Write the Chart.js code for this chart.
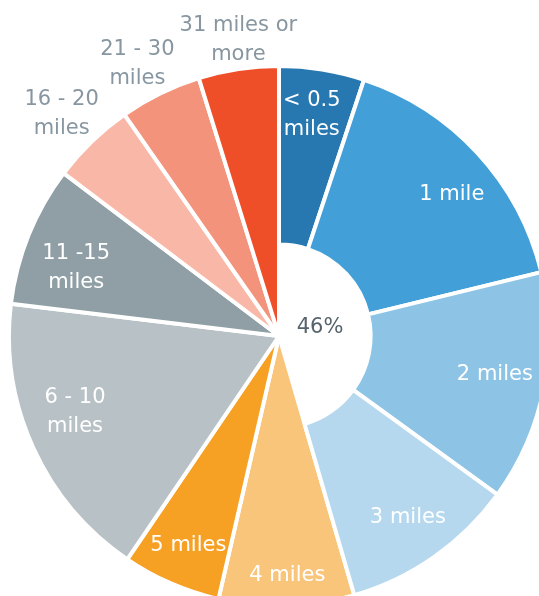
<!DOCTYPE html>
<html>
<head>
<meta charset="utf-8">
<script src="https://cdn.jsdelivr.net/npm/chart.js@4.4.1/dist/chart.umd.min.js"></script>
<style>
    html, body { margin: 0; padding: 0; background: #fff; overflow: hidden; width: 539px; height: 596px; }
    .wrap { position: relative; width: 560px; height: 620px; }
    .wrap canvas { position: absolute; left: 0; top: 0; }
</style>
</head>
<body>
<div class="wrap">
    <canvas id="pieChart" width="560" height="620"></canvas>
    <canvas id="ringChart" width="560" height="620"></canvas>
</div>
<script>
// Data
const categories = [
    ['< 0.5', 'miles'], ['1 mile'], ['2 miles'], ['3 miles'], ['4 miles'], ['5 miles'],
    ['6 - 10', 'miles'], ['11 -15', 'miles'], ['16 - 20', 'miles'], ['21 - 30', 'miles'], ['31 miles or', 'more']
];
const shares = [5.1, 16.1, 13.8, 10.5, 8.1, 5.9, 17.4, 8.4, 5.0, 4.9, 4.8];
const colors = [
    '#2777b0', '#429fd8', '#8dc4e6', '#b5d8ef', '#f8c57b', '#f6a124',
    '#b8c1c6', '#8f9fa5', '#f9b8a7', '#f3937b', '#ef4f28'
];
const inRing = [true, true, true, true, false, false, false, false, false, false, false];
const outsideLabel = [false, false, false, false, false, false, false, false, true, true, true];
const centerText = '46%';

const FONT = "'Century Gothic', 'DejaVu Sans', sans-serif";
const CLEAR = 'rgba(0,0,0,0)';
// small hand nudges (px) so labels sit where the original best-fit put them
const labelNudge = [[-3, 0], [8, 10], [-4, -5], [0, -2], [2, 16], [-1, 4], [0, -17], [5, 16], [-2, 2], [-5, 7], [6, 11]];

// Labels drawn at the middle angle of each slice
const sliceLabels = {
    id: 'sliceLabels',
    afterDatasetsDraw(chart) {
        const ctx = chart.ctx;
        const arcs = chart.getDatasetMeta(0).data;
        ctx.save();
        ctx.font = '21px ' + FONT;
        ctx.textAlign = 'center';
        ctx.textBaseline = 'middle';
        arcs.forEach((arc, i) => {
            const mid = (arc.startAngle + arc.endAngle) / 2;
            const r = arc.outerRadius * (outsideLabel[i] ? 1.15 : 0.83);
            const x = arc.x + Math.cos(mid) * r + labelNudge[i][0];
            const y = arc.y + Math.sin(mid) * r + labelNudge[i][1];
            const lines = categories[i];
            ctx.fillStyle = outsideLabel[i] ? '#8796a0' : '#ffffff';
            lines.forEach((line, k) => {
                ctx.fillText(line, x, y + (k - (lines.length - 1) / 2) * 29);
            });
        });
        // centre figure
        const a = arcs[0];
        ctx.font = '21px ' + FONT;
        ctx.fillStyle = '#56636b';
        ctx.fillText(centerText, a.x + 41, a.y - 8);
        ctx.restore();
    }
};

const baseOptions = {
    responsive: false,
    animation: false,
    radius: 270,
    rotation: 0,
    layout: { padding: { left: 0, right: 2, top: 52, bottom: 0 } },
    plugins: { legend: { display: false }, tooltip: { enabled: false } },
    events: []
};

// Full pie: the slices that run to the centre
new Chart(document.getElementById('pieChart'), {
    type: 'pie',
    data: {
        labels: categories,
        datasets: [{
            data: shares,
            backgroundColor: colors.map((c, i) => inRing[i] ? CLEAR : c),
            borderColor: '#ffffff',
            borderWidth: inRing.map(r => r ? 0 : 4)
        }]
    },
    options: baseOptions
});

// Ring: the short-distance slices around the hole
new Chart(document.getElementById('ringChart'), {
    type: 'doughnut',
    data: {
        labels: categories,
        datasets: [{
            data: shares,
            backgroundColor: colors.map((c, i) => inRing[i] ? c : CLEAR),
            borderColor: '#ffffff',
            borderWidth: inRing.map(r => r ? 4 : 0)
        }]
    },
    options: { ...baseOptions, cutout: 94 },
    plugins: [sliceLabels]
});
</script>
</body>
</html>
